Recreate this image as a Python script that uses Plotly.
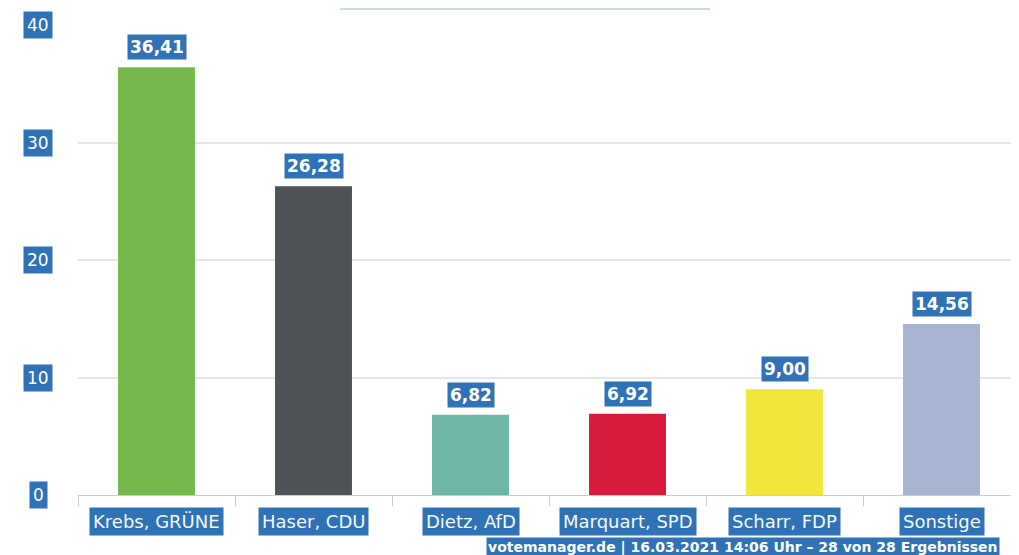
import plotly.graph_objects as go

candidates = ["Krebs, GRÜNE", "Haser, CDU", "Dietz, AfD", "Marquart, SPD", "Scharr, FDP", "Sonstige"]
shares = [36.41, 26.28, 6.82, 6.92, 9.00, 14.56]
colors = ["#76b84e", "#4d5357", "#6fb6a6", "#d81a3f", "#f1e73c", "#a6b4cf"]
y_ticks = [0, 10, 20, 30, 40]
footer = "votemanager.de | 16.03.2021 14:06 Uhr – 28 von 28 Ergebnissen"

LABEL_BG = "#2f72b5"
FONT = "DejaVu Sans"

# plot area geometry (pixels)
ML, MT, PW, PH = 70, 17, 942, 470

fig = go.Figure(go.Bar(
    x=candidates, y=shares, marker=dict(color=colors, line=dict(width=0)),
    width=0.49, hoverinfo="skip",
))

ann = []
for c, v in zip(candidates, shares):
    ann.append(dict(x=c, y=v, xref="x", yref="y", yshift=20, showarrow=False,
                    text="<b>" + f"{v:.2f}".replace(".", ",") + "</b>",
                    font=dict(family=FONT, size=17, color="white"),
                    bgcolor=LABEL_BG, borderpad=2))
    ann.append(dict(x=c, y=0, xref="x", yref="y", yshift=-26, showarrow=False,
                    text=c, font=dict(family=FONT, size=18, color="#f4f8fc"),
                    bgcolor=LABEL_BG, borderpad=3))
for t in y_ticks:
    ann.append(dict(x=-40 / PW, y=t, xref="paper", yref="y", xanchor="center", showarrow=False,
                    text=str(t), font=dict(family=FONT, size=17, color="white"),
                    bgcolor=LABEL_BG, borderpad=3))
ann.append(dict(x=(486 - 78) / PW, y=-(537 - 495) / PH, xref="paper", yref="paper", showarrow=False,
                text="<b>" + footer + "</b>", xanchor="left", yanchor="top",
                font=dict(family=FONT, size=14, color="white"), bgcolor=LABEL_BG, borderpad=1))

fig.update_layout(
    width=1012, height=557,
    margin=dict(l=ML, r=0, t=MT, b=70, autoexpand=False),
    paper_bgcolor="white", plot_bgcolor="white",
    showlegend=False,
    annotations=ann,
    xaxis=dict(showticklabels=False, ticks="outside", tickson="boundaries", ticklen=10,
               tickcolor="#cccccc", showline=True, linecolor="#cccccc", linewidth=1,
               showgrid=False, fixedrange=True),
    yaxis=dict(range=[0, 40], tickvals=y_ticks, showticklabels=False, showgrid=True,
               gridcolor="#e6e6e6", gridwidth=1.5, zeroline=False, fixedrange=True),
    shapes=[dict(type="line", xref="paper", yref="paper", x0=(340 - 78) / PW, x1=(710 - 78) / PW,
                 y0=1 + 16 / PH, y1=1 + 16 / PH, line=dict(color="#b9cfea", width=1.5))],
)

fig.write_html("out.html")
